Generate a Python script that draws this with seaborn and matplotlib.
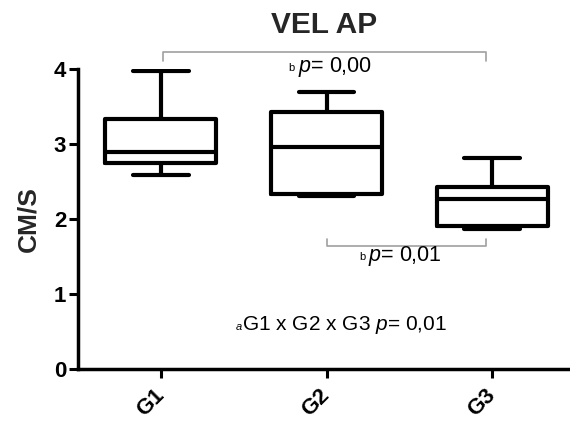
import numpy as np
import pandas as pd
import matplotlib
matplotlib.use("Agg")
import matplotlib.pyplot as plt
import seaborn as sns

# values (min, q1, median, q3, max per group)
groups = ["G1", "G2", "G3"]
g1_vals = [2.59, 2.75, 2.89, 3.34, 3.97]
g2_vals = [2.31, 2.34, 2.96, 3.43, 3.69]
g3_vals = [1.87, 1.91, 2.27, 2.43, 2.81]

title = "VEL AP"
y_label = "CM/S"
y_ticks = [0, 1, 2, 3, 4]

# comparison brackets: (from group, to group, height, tip length)
bracket_top = (0.01, 1.96, 4.23, -0.12)
bracket_low = (1.0, 1.96, 1.645, 0.085)
p_top = "$\\it{p}$= 0,00"
p_low = "$\\it{p}$= 0,01"
p_all = "G1 x G2 x G3 $\\it{p}$= 0,01"

sns.set_theme(style="ticks")
plt.rcParams["font.family"] = ["Liberation Sans", "DejaVu Sans"]
plt.rcParams["mathtext.fontset"] = "custom"
plt.rcParams["mathtext.rm"] = "Liberation Sans"
plt.rcParams["mathtext.it"] = "Liberation Sans:italic"

df = pd.DataFrame({
    "group": np.repeat(groups, 5),
    "value": g1_vals + g2_vals + g3_vals,
})

fig = plt.figure(figsize=(5.7, 4.21), dpi=100)
ax = fig.add_axes([0.137, 0.1235, 0.863, 0.7126])

sns.boxplot(data=df, x="group", y="value", ax=ax, width=0.67, fill=False,
            color="black", linewidth=3, whis=np.inf, showfliers=False,
            medianprops={"color": "black", "linewidth": 3},
            whiskerprops={"linewidth": 3},
            capprops={"linewidth": 3})

ax.set_xlim(-0.5, 2.47)
ax.set_ylim(0, 4)
ax.set_yticks(y_ticks)
ax.set_xlabel("")
ax.set_ylabel(y_label, fontsize=19, fontweight="bold", labelpad=10)
ax.set_title(title, fontsize=21.5, fontweight="bold", pad=26)

for side in ["top", "right"]:
    ax.spines[side].set_visible(False)
for side in ["left", "bottom"]:
    ax.spines[side].set_linewidth(2.5)
    ax.spines[side].set_color("black")

ax.tick_params(axis="both", width=2.2, length=6.5, color="black",
               labelsize=16, labelcolor="black")
ax.tick_params(axis="y", pad=2)
ax.tick_params(axis="x", pad=10)
for lbl in ax.get_yticklabels():
    lbl.set_fontweight("bold")
for lbl in ax.get_xticklabels():
    lbl.set_fontweight("bold")
    lbl.set_rotation(45)
    lbl.set_ha("right")
    lbl.set_va("center")
    lbl.set_rotation_mode("anchor")

# significance brackets
gray = "#a0a0a0"
for x0, x1, y, tip in [bracket_top, bracket_low]:
    ax.plot([x0, x0, x1, x1], [y + tip, y, y, y + tip], color=gray,
            linewidth=1.2, clip_on=False)

# annotation texts
ax.text(0.77, 3.97, "b", fontsize=8, color="black")
ax.text(0.825, 3.956, p_top, fontsize=15.5, color="black")
ax.text(1.195, 1.455, "b", fontsize=8, color="black")
ax.text(1.25, 1.444, p_low, fontsize=15.5, color="black")
ax.text(0.453, 0.52, "a", fontsize=8, style="italic", color="black")
ax.text(0.488, 0.52, p_all, fontsize=15, color="black")

fig.savefig("out.png", dpi=100)
